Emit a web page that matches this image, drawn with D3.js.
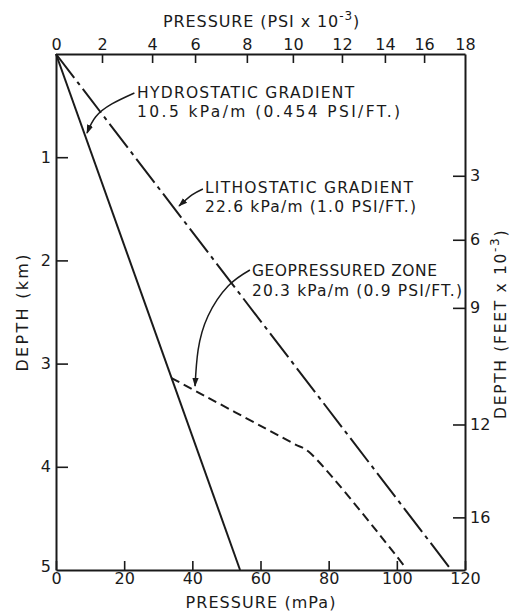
<!DOCTYPE html>
<html>
<head>
<meta charset="utf-8">
<script src="https://cdn.jsdelivr.net/npm/d3@7"></script>
<style>
  html, body { margin: 0; padding: 0; background: #fff; }
  svg { display: block; }
  text { font-family: "DejaVu Sans", sans-serif; fill: #1a1a1a; }
</style>
</head>
<body>
<svg id="chart" width="512" height="614"></svg>
<script>
// ---- data ----
const mpaTicks = [0, 20, 40, 60, 80, 100, 120];
const kmTicks = [1, 2, 3, 4, 5];
const psiTicks = [0, 2, 4, 6, 8, 10, 12, 14, 16, 18];
const psiTickMpa = [0, 13.5, 28.2, 40.8, 56.0, 69.5, 83.9, 96.5, 108.0, 120];   // where the PSI ticks sit on the mPa scale
const feetTicks = [3, 6, 9, 12, 16];
const feetTickKm = [1.18, 1.80, 2.46, 3.59, 4.49];                              // where the feet ticks sit on the km scale

const hydrostatic = [[0, 0], [54, 5]];                  // [mPa, km]
const lithostatic = [[0, 0], [116, 5]];
const geopressured = [[33.9, 3.14], [70.0, 3.78], [74.0, 3.85], [102.4, 4.97]];

const labels = [
  { lines: ["HYDROSTATIC GRADIENT", "10.5 kPa/m (0.454 PSI/FT.)"], x: 23.8, y: [0.426, 0.610], w: [217, 263],
    leader: [[23.0, 0.378], [16.4, 0.484], [11.6, 0.610], [9.1, 0.766]] },
  { lines: ["LITHOSTATIC GRADIENT", "22.6 kPa/m (1.0 PSI/FT.)"], x: 43.7, y: [1.347, 1.531], w: [208, 211],
    leader: [[43.1, 1.308], [39.9, 1.366], [36.1, 1.473]] },
  { lines: ["GEOPRESSURED ZONE", "20.3 kPa/m (0.9 PSI/FT.)"], x: 57.5, y: [2.151, 2.345], w: [185, 210],
    leader: [[56.9, 2.093], [50.5, 2.248], [44.6, 2.539], [41.7, 2.868], [40.8, 3.217]] }
];

// ---- layout ----
const svg = d3.select("#chart");
const x = d3.scaleLinear().domain([0, 120]).range([56, 465]);
const y = d3.scaleLinear().domain([0, 5]).range([54, 570]);
const ink = "#1a1a1a";

svg.append("defs").append("marker")
  .attr("id", "arrow").attr("viewBox", "0 0 10 10").attr("refX", 9).attr("refY", 5)
  .attr("markerWidth", 9).attr("markerHeight", 9).attr("markerUnits", "userSpaceOnUse")
  .attr("orient", "auto")
  .append("path").attr("d", "M0,1.5 L10,5 L0,8.5 Z").attr("fill", ink);

function styleAxis(g) {
  g.selectAll(".domain").attr("stroke", ink).attr("stroke-width", 2);
  g.selectAll(".tick line").attr("stroke", ink).attr("stroke-width", 1.6);
  g.selectAll(".tick text").style("font-size", "16px").attr("fill", ink);
}

// bottom axis (mPa)
svg.append("g").attr("transform", `translate(0,${y(5)})`)
  .call(d3.axisBottom(x).tickValues(mpaTicks).tickSizeInner(-9).tickSizeOuter(0).tickPadding(3).tickFormat(d3.format("d")))
  .call(styleAxis);

// top axis (PSI x 10^-3)
svg.append("g").attr("transform", `translate(0,${y(0)})`)
  .call(d3.axisTop(x).tickValues(psiTickMpa).tickSizeInner(-9).tickSizeOuter(0).tickPadding(4)
    .tickFormat((d, i) => psiTicks[i]))
  .call(styleAxis)
  .call(g => g.selectAll(".tick").filter((d, i) => i === 0 || i === psiTicks.length - 1).select("line").remove());

// left axis (km)
svg.append("g").attr("transform", `translate(${x(0)},0)`)
  .call(d3.axisLeft(y).tickValues(kmTicks).tickSizeInner(-12).tickSizeOuter(0).tickPadding(5).tickFormat(d3.format("d")))
  .call(styleAxis)
  .call(g => g.selectAll(".tick").filter(d => d === 5).select("line").remove())
  .call(g => g.selectAll(".tick").filter(d => d === 5).select("text").attr("dy", "0.1em"));

// right axis (feet x 10^-3)
svg.append("g").attr("transform", `translate(${x(120)},0)`)
  .call(d3.axisRight(y).tickValues(feetTickKm).tickSizeInner(-12).tickSizeOuter(0).tickPadding(5)
    .tickFormat((d, i) => feetTicks[i]))
  .call(styleAxis);

// axis titles
const topTitle = svg.append("text").attr("x", 163).attr("y", 27)
  .style("font-size", "16px").style("letter-spacing", "0.9px");
topTitle.append("tspan").text("PRESSURE (PSI x 10");
topTitle.append("tspan").attr("dy", -7).style("font-size", "12px").text("-3");
topTitle.append("tspan").attr("dy", 7).text(")");

svg.append("text").attr("x", (x(0) + x(120)) / 2).attr("y", 608).attr("text-anchor", "middle")
  .style("font-size", "16px").attr("textLength", 150).attr("lengthAdjust", "spacing").text("PRESSURE (mPa)");

svg.append("text").attr("transform", `translate(28,${313}) rotate(-90)`).attr("text-anchor", "middle")
  .style("font-size", "16px").attr("textLength", 117).attr("lengthAdjust", "spacing").text("DEPTH (km)");

const rTitle = svg.append("text").attr("transform", `translate(506,${419}) rotate(-90)`)
  .style("font-size", "15.5px").style("letter-spacing", "1.7px");
rTitle.append("tspan").text("DEPTH (FEET x 10");
rTitle.append("tspan").attr("dy", -7).style("font-size", "12px").text("-3");
rTitle.append("tspan").attr("dy", 7).text(")");

// series
const line = d3.line().x(d => x(d[0])).y(d => y(d[1]));
svg.append("path").datum(hydrostatic).attr("d", line)
  .attr("fill", "none").attr("stroke", ink).attr("stroke-width", 2);
svg.append("path").datum(lithostatic).attr("d", line)
  .attr("fill", "none").attr("stroke", ink).attr("stroke-width", 2).attr("stroke-dasharray", "30,5,4,5");
svg.append("path").datum(geopressured).attr("d", line.curve(d3.curveCatmullRom))
  .attr("fill", "none").attr("stroke", ink).attr("stroke-width", 2).attr("stroke-dasharray", "9,5");

// annotations
const leader = d3.line().x(d => x(d[0])).y(d => y(d[1])).curve(d3.curveNatural);
labels.forEach(l => {
  l.lines.forEach((t, i) => {
    svg.append("text").attr("x", x(l.x)).attr("y", y(l.y[i]))
      .style("font-size", "15.5px").attr("textLength", l.w[i]).attr("lengthAdjust", "spacing").text(t);
  });
  svg.append("path").datum(l.leader).attr("d", leader)
    .attr("fill", "none").attr("stroke", ink).attr("stroke-width", 1.5).attr("marker-end", "url(#arrow)");
});
</script>
</body>
</html>
